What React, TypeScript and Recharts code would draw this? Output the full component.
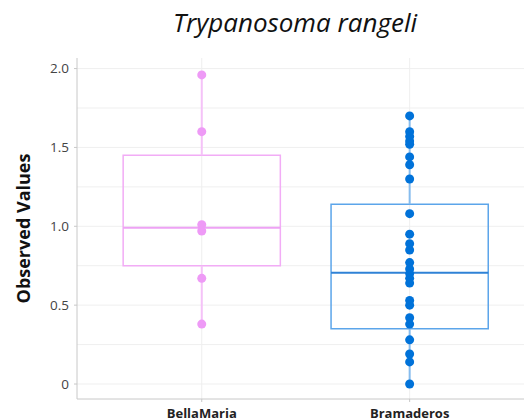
import {
  ComposedChart,
  Scatter,
  XAxis,
  YAxis,
  CartesianGrid,
  ReferenceArea,
  ReferenceLine,
} from "recharts";

const categories = ["BellaMaria", "Bramaderos"];

const bellaMaria = [1.96, 1.6, 1.01, 0.97, 0.67, 0.38];
const bramaderos = [
  1.7, 1.6, 1.57, 1.54, 1.52, 1.44, 1.39, 1.3, 1.08, 0.95, 0.89, 0.85, 0.77,
  0.73, 0.7, 0.67, 0.64, 0.53, 0.5, 0.42, 0.38, 0.28, 0.19, 0.14, 0,
];

// box stats: [low whisker, q1, median, q3, high whisker]
const boxLow = [0.38, 0];
const boxQ1 = [0.75, 0.35];
const boxMedian = [0.99, 0.705];
const boxQ3 = [1.45, 1.14];
const boxHigh = [1.96, 1.7];

const yTicks = [0, 0.5, 1, 1.5, 2];
const gridValues = [0, 0.25, 0.5, 0.75, 1, 1.25, 1.5, 1.75, 2];

const COLORS = [
  { dot: "#EE9AF6", box: "#F2ACF6", whisker: "#F5C2F8", median: "#EEA2F5" },
  { dot: "#0072D9", box: "#5CA5EA", whisker: "#86BCEE", median: "#2F82D6" },
];

const HALF = 0.378;
const FONT = "'Open Sans', 'Noto Sans', sans-serif";

const series = [bellaMaria, bramaderos];

const Dot = (props: any) => {
  const { cx, cy, fill } = props;
  if (cx == null || cy == null) return null;
  return <circle cx={cx} cy={cy} r={4.5} fill={fill} />;
};

export default function App() {
  return (
    <div
      style={{
        position: "absolute",
        left: 0,
        top: 0,
        width: 524,
        height: 418,
        background: "#fff",
        fontFamily: FONT,
        overflow: "hidden",
      }}
    >
      <div
        style={{
          position: "absolute",
          left: 0,
          top: 4,
          width: 590,
          textAlign: "center",
          fontSize: 26,
          fontStyle: "italic",
          color: "#111",
        }}
      >
        Trypanosoma rangeli
      </div>
      <ComposedChart
        width={524}
        height={418}
        margin={{ top: 58, right: 0, bottom: 0, left: 0 }}
      >
        <CartesianGrid
          stroke="#efefef"
          horizontalValues={gridValues}
          verticalValues={[0, 1]}
        />
        <XAxis
          xAxisId="top"
          orientation="top"
          type="number"
          dataKey="x"
          domain={[-0.6, 1.55]}
          height={0}
          tick={false}
          tickLine={false}
          axisLine={{ stroke: "#dadada", strokeWidth: 2 }}
        />
        <XAxis
          type="number"
          dataKey="x"
          domain={[-0.6, 1.55]}
          ticks={[0, 1]}
          tickFormatter={(v: number) => categories[v]}
          height={19}
          tickSize={3}
          tickMargin={7}
          stroke="#c8c8c8"
          tick={{ fill: "#222", fontSize: 13, fontWeight: 700, fontFamily: FONT }}
        />
        <YAxis
          type="number"
          dataKey="y"
          domain={[-0.095, 2.067]}
          ticks={yTicks}
          tickFormatter={(v: number) => (v === 0 ? "0" : v.toFixed(1))}
          width={77}
          tickSize={3}
          tickMargin={5}
          stroke="#c8c8c8"
          tick={{ fill: "#444", fontSize: 13.5, fontFamily: FONT }}
          label={{
            value: "Observed Values",
            angle: -90,
            position: "insideLeft",
            offset: 24,
            style: {
              fontSize: 18,
              fontWeight: 700,
              fill: "#111",
              fontFamily: FONT,
              textAnchor: "middle",
            },
          }}
        />
        {categories.map((c, i) => (
          <ReferenceLine
            key={c + "-wl"}
            segment={[
              { x: i, y: boxLow[i] },
              { x: i, y: boxQ1[i] },
            ]}
            stroke={COLORS[i].whisker}
            strokeWidth={2}
          />
        ))}
        {categories.map((c, i) => (
          <ReferenceLine
            key={c + "-wh"}
            segment={[
              { x: i, y: boxQ3[i] },
              { x: i, y: boxHigh[i] },
            ]}
            stroke={COLORS[i].whisker}
            strokeWidth={2}
          />
        ))}
        {categories.map((c, i) => (
          <ReferenceArea
            key={c + "-box"}
            x1={i - HALF}
            x2={i + HALF}
            y1={boxQ1[i]}
            y2={boxQ3[i]}
            fill="none"
            fillOpacity={0}
            stroke={COLORS[i].box}
            strokeWidth={1.5}
          />
        ))}
        {categories.map((c, i) => (
          <ReferenceLine
            key={c + "-med"}
            segment={[
              { x: i - HALF, y: boxMedian[i] },
              { x: i + HALF, y: boxMedian[i] },
            ]}
            stroke={COLORS[i].median}
            strokeWidth={2}
          />
        ))}
        {categories.map((c, i) => (
          <Scatter
            key={c}
            name={c}
            data={series[i].map((v) => ({ x: i, y: v }))}
            fill={COLORS[i].dot}
            shape={<Dot />}
            isAnimationActive={false}
          />
        ))}
      </ComposedChart>
    </div>
  );
}
